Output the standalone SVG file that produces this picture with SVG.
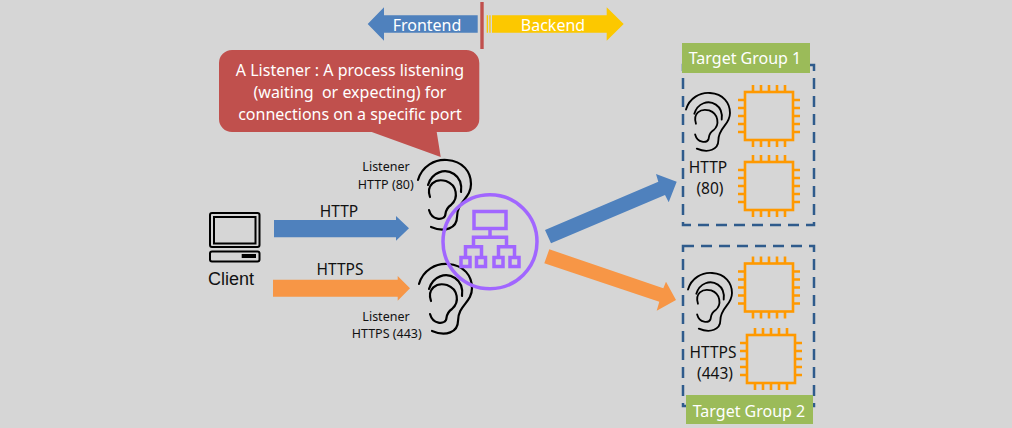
<svg xmlns="http://www.w3.org/2000/svg" width="1012" height="428" viewBox="0 0 1012 428">
<style>
text{font-family:"Noto Sans","Open Sans","Liberation Sans",sans-serif;text-anchor:middle;white-space:pre}
.w{fill:#fff}.k{fill:#111}
.ear{fill:none;stroke:#000;stroke-width:2.200;stroke-linecap:round}
.chip{fill:none;stroke:#ff9900;stroke-width:2.600}
.dash{fill:none;stroke:#2f5b8c;stroke-width:2.500;stroke-dasharray:11 7}
.net{fill:none;stroke:#a166ff;stroke-width:3.500}
.blue{fill:#4f81bd}.orange{fill:#f79646}.tg{fill:#9bbb59}
.lap{fill:none;stroke:#000;stroke-width:2}
</style>
<defs>
<g id="ear">
<path class="ear" d="M418 180C422 166 435 159 447 160C463 161 471 172 471 184C471 199 457 201 457 217C457 228 445 233 431 227"/>
<path class="ear" d="M428 185C432 172 445 168 454 174C460 178 462 184 461 192"/>
<path class="ear" d="M430 197C426 185 435 178 446 181C457 185 459 198 451 205C445 209 446 213 445 216C443 220 432 221 429 210"/>
</g>
<g id="chip">
<rect class="chip" x="0" y="0" width="48" height="48"/>
<path class="chip" d="M8 0V-7M16 0V-7M24 0V-7M32 0V-7M40 0V-7M8 48V55M16 48V55M24 48V55M32 48V55M40 48V55M0 8H-7M0 16H-7M0 24H-7M0 32H-7M0 40H-7M48 8H55M48 16H55M48 24H55M48 32H55M48 40H55"/>
</g>
</defs>
<rect width="1012" height="428" fill="#d6d6d6"/>
<g id="connectors">
<path class="blue" d="M274 220H396V216L409 228.300L396 240.700V237.300H274Z"/>
<path class="orange" d="M273 279.700H397.700V276L410 288.300L397.700 300.700V296.700H273Z"/>
<path class="blue" d="M545 230L658.300 181.700L656 174L676.700 181.700L668.700 202.300L665 195L551 243.300Z"/>
<path class="orange" d="M549.300 249.300L663.300 288.300L666 281.700L676 300L656.700 310.700L659.300 301.700L544.300 263.300Z"/>
</g>
<g id="frontend">
<path class="blue" d="M367.700 24L384 7.300V15.300H477.700V32.700H384V40.700Z"/>
<text class="w" x="427" y="31" font-size="16">Frontend</text>
</g>
<g id="divider"><rect x="480.300" y="2" width="3.400" height="47" fill="#c0504d"/></g>
<g id="backend">
<path fill="#fcc800" d="M486.700 15.300H488V32.700H486.700ZM489.300 15.300H490.600V32.700H489.300ZM492 15.300H606.700V7.300L623.700 24L606.700 40.700V32.700H492Z"/>
<text class="w" x="553" y="31" font-size="16">Backend</text>
</g>
<g id="callout">
<path fill="#c0504d" d="M232 50H466A13 13 0 0 1 479.300 63V119A13 13 0 0 1 466 132H436.700L440.700 157L371.700 132H232A13 13 0 0 1 219 119V63A13 13 0 0 1 232 50Z"/>
<text class="w" font-size="16"><tspan x="350" y="76">A Listener : A process listening</tspan><tspan x="350" y="98">(waiting  or expecting) for</tspan><tspan x="350" y="120">connections on a specific port</tspan></text>
</g>
<g id="client">
<rect class="lap" x="210" y="213" width="49.500" height="34" rx="2"/>
<rect class="lap" x="214" y="217" width="41.500" height="26.500"/>
<rect class="lap" x="210" y="251.500" width="49.500" height="10" rx="2"/>
<rect x="241.700" y="254" width="14.300" height="4"/>
<text x="231" y="285" font-size="18" style="font-family:'Liberation Sans',sans-serif" fill="#111">Client</text>
</g>
<g id="http-label"><text class="k" x="339" y="216.500" font-size="15.500">HTTP</text></g>
<g id="https-label"><text class="k" x="340" y="275" font-size="15.500">HTTPS</text></g>
<g id="listener-http">
<use href="#ear"/>
<text class="k" font-size="12.500"><tspan x="386" y="171">Listener</tspan><tspan x="385.700" y="189">HTTP (80)</tspan></text>
</g>
<g id="listener-https">
<use href="#ear" transform="translate(1 104)"/>
<text class="k" font-size="12.500"><tspan x="386" y="321">Listener</tspan><tspan x="386.700" y="338">HTTPS (443)</tspan></text>
</g>
<g id="load-balancer">
<circle cx="490" cy="241.700" r="47" fill="none" stroke="#a166ff" stroke-width="3.500"/>
<rect class="net" x="474" y="211.500" width="32" height="17"/>
<path class="net" d="M490 229V237.300M473.500 246.700V237.300H506.500V246.700M465.500 256V246.700H481.500V256M498.500 256V246.700H514.500V256"/>
<rect class="net" x="461" y="257.500" width="9" height="9"/>
<rect class="net" x="476.500" y="257.500" width="9" height="9"/>
<rect class="net" x="494" y="257.500" width="9" height="9"/>
<rect class="net" x="510" y="257.500" width="9" height="9"/>
</g>
<g id="target-group-1">
<rect class="dash" x="683" y="65" width="131" height="160"/>
<rect class="tg" x="682" y="43" width="128" height="30"/>
<text class="w" x="745" y="64" font-size="16">Target Group 1</text>
<use href="#ear" transform="translate(686 93) scale(.83) translate(-418 -160)"/>
<use href="#chip" x="745" y="92"/>
<use href="#chip" x="745" y="162"/>
<text class="k" font-size="15.500"><tspan x="708" y="173">HTTP</tspan><tspan x="710" y="194">(80)</tspan></text>
</g>
<g id="target-group-2">
<rect class="dash" x="683" y="246" width="131" height="160"/>
<use href="#ear" transform="translate(688 273) scale(.83) translate(-418 -160)"/>
<use href="#chip" x="745" y="263.500"/>
<use href="#chip" x="747" y="335"/>
<text class="k" font-size="15.500"><tspan x="713" y="358">HTTPS</tspan><tspan x="715" y="379">(443)</tspan></text>
<rect class="tg" x="686" y="395" width="127" height="29"/>
<text class="w" x="749" y="417" font-size="16">Target Group 2</text>
</g>
</svg>
